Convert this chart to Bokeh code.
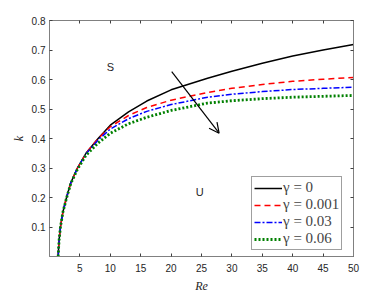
from bokeh.plotting import figure
from bokeh.models import Range1d, LinearAxis, FixedTicker, Arrow, OpenHead, Legend, LegendItem
from bokeh.core.properties import value
from bokeh.embed import file_html
from bokeh.resources import INLINE

re_vals = [1.43, 1.5, 1.6, 1.8, 2.2, 2.8, 3.5, 4.6, 6, 8, 10, 13, 16, 20, 26, 30, 35, 40, 45, 50]
k_g0 = [0.0, 0.03, 0.06, 0.1, 0.15, 0.2, 0.25, 0.3, 0.35, 0.4, 0.445, 0.49, 0.527, 0.565, 0.604, 0.628, 0.655, 0.68, 0.70, 0.719]
k_g001 = [0.0, 0.03, 0.06, 0.1, 0.15, 0.2, 0.25, 0.3, 0.35, 0.4, 0.44, 0.478, 0.505, 0.53, 0.556, 0.57, 0.583, 0.594, 0.601, 0.607]
k_g03 = [0.0, 0.03, 0.06, 0.1, 0.15, 0.2, 0.25, 0.3, 0.348, 0.395, 0.432, 0.467, 0.492, 0.515, 0.54, 0.55, 0.559, 0.566, 0.57, 0.574]
k_g06 = [0.0, 0.03, 0.06, 0.1, 0.15, 0.198, 0.247, 0.296, 0.343, 0.385, 0.418, 0.45, 0.472, 0.495, 0.52, 0.528, 0.535, 0.54, 0.543, 0.546]
labels = ["\u03b3 = 0", "\u03b3 = 0.001", "\u03b3 = 0.03", "\u03b3 = 0.06"]
x_ticks = [5, 10, 15, 20, 25, 30, 35, 40, 45, 50]
y_ticks = [0.1, 0.2, 0.3, 0.4, 0.5, 0.6, 0.7, 0.8]
region_text = ["S", "U"]
region_x = [10.0, 24.7]
region_y = [0.641, 0.219]
arrow_start = (20.1, 0.627)
arrow_end = (27.9, 0.418)

p = figure(frame_width=304, frame_height=236, output_backend="svg", toolbar_location=None,
           x_range=Range1d(0, 50), y_range=Range1d(0, 0.8),
           min_border_left=49, min_border_right=23, min_border_top=20, min_border_bottom=30)
p.grid.visible = False
p.outline_line_color = "#808080"
p.background_fill_color = "white"
p.border_fill_color = "white"

for ax in [p.xaxis[0], p.yaxis[0]]:
    ax.axis_line_color = "#808080"
    ax.major_tick_line_color = "#404040"
    ax.major_tick_in = 3
    ax.major_tick_out = 0
    ax.minor_tick_line_color = None
    ax.major_label_text_font = "Liberation Sans"
    ax.major_label_text_font_size = "10px"
    ax.major_label_text_color = "#262626"
    ax.axis_label_text_font = "Liberation Serif"
    ax.axis_label_text_font_style = "italic"
    ax.axis_label_text_font_size = "12px"
    ax.axis_label_text_color = "#262626"
p.xaxis[0].ticker = FixedTicker(ticks=x_ticks)
p.yaxis[0].ticker = FixedTicker(ticks=y_ticks)
p.xaxis[0].axis_label = "Re"
p.yaxis[0].axis_label = "k"
p.xaxis[0].major_label_standoff = 7
p.xaxis[0].axis_label_standoff = 4
p.yaxis[0].major_label_standoff = 4
p.yaxis[0].axis_label_standoff = 3

top = LinearAxis(ticker=FixedTicker(ticks=x_ticks), major_label_text_font_size="0px",
                 major_tick_in=3, major_tick_out=0, minor_tick_line_color=None,
                 axis_line_color="#808080", major_tick_line_color="#404040")
right = LinearAxis(ticker=FixedTicker(ticks=y_ticks), major_label_text_font_size="0px",
                   major_tick_in=3, major_tick_out=0, minor_tick_line_color=None,
                   axis_line_color="#808080", major_tick_line_color="#404040")
p.add_layout(top, "above")
p.add_layout(right, "right")

r0 = p.line(re_vals, k_g0, line_color="black", line_width=1.5)
r1 = p.line(re_vals, k_g001, line_color="#ff0000", line_width=1.5, line_dash="6 4")
r2 = p.line(re_vals, k_g03, line_color="#0000ff", line_width=1.5, line_dash="6 2 2 2")
r3 = p.line(re_vals, k_g06, line_color="#008000", line_width=2.8, line_dash="2 2")

p.text(region_x, region_y, text=region_text, text_font=value("Liberation Sans"),
       text_font_size="11px", text_align="center", text_baseline="middle", text_color="#262626")

p.add_layout(Arrow(end=OpenHead(size=10, line_width=1.2), x_start=arrow_start[0], y_start=arrow_start[1],
                   x_end=arrow_end[0], y_end=arrow_end[1], line_width=1.2, line_color="black"))

legend = Legend(items=[LegendItem(label=labels[i], renderers=[r]) for i, r in enumerate([r0, r1, r2, r3])],
                location=(202, 6), label_text_font="Liberation Serif", label_text_font_size="15px",
                glyph_width=28, glyph_height=16, label_height=16, label_standoff=1, spacing=0,
                padding=2, margin=0, border_line_color="#404040", background_fill_alpha=1.0)
p.add_layout(legend)

open("out.html", "w").write(file_html(p, INLINE))
